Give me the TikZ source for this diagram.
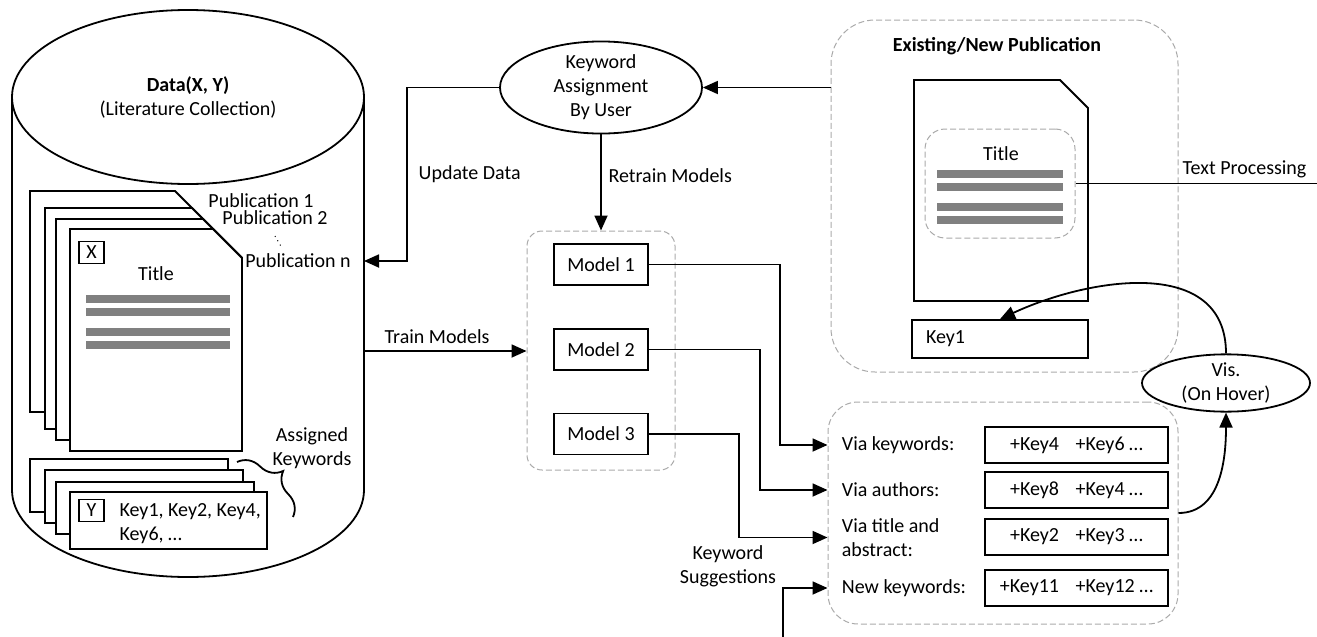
\documentclass[tikz,border=0pt]{standalone}
\usepackage{fontspec}
\setmainfont{Carlito}
\usepackage{xcolor}
\definecolor{grpgray}{RGB}{170,170,170}
\definecolor{bargray}{RGB}{128,128,128}
\usepackage{tikz}
\usetikzlibrary{shapes.geometric}
\usetikzlibrary{arrows.meta}
\usetikzlibrary{decorations.pathreplacing}

\begin{document}
\begin{tikzpicture}[x=0.5pt,y=-0.5pt,line width=0.9pt,
  arr/.style={-{Triangle[length=7.5pt,width=6.5pt]}},
  grp/.style={draw=grpgray,line width=0.5pt,dash pattern=on 3pt off 1.5pt,rounded corners=#1},
  grp/.default=8pt,
  page/.style={draw,fill=white},
  bar/.style={draw=bargray,line width=4pt},
  modelbox/.style={draw,minimum width=47pt,minimum height=20.5pt,inner sep=0pt},
  keybox/.style={draw,minimum width=91.5pt,minimum height=18pt,inner sep=0pt},
  tagbox/.style={draw,minimum width=12.5pt,minimum height=11pt,inner sep=0pt},
  oval/.style={draw,shape=ellipse,inner sep=0pt,align=center},
  via/.style={anchor=west,align=left,inner sep=0pt}]
\useasboundingbox (0,0) rectangle (1317,637);

% literature collection
\draw[fill=white] (12,97) -- (12,490) arc[start angle=180,end angle=0,x radius=176,y radius=87] -- (364,97);
\draw[fill=white] (188,97) ellipse[x radius=176,y radius=87];
\node (dataxy) [align=center] at (188,97) {\textbf{Data(X, Y)}\\(Literature Collection)};
\coordinate (cylupd) at (364,261);
\coordinate (cyltrain) at (364,351);

% publications
\draw[page] (30,412) -- (30,191) -- (175,191) -- (242,258) -- (242,412) -- cycle;
\draw[page] (45,429) -- (45,208) -- (192,208) -- (242,258) -- (242,429) -- cycle;
\draw[page] (56,440) -- (56,219) -- (203,219) -- (242,258) -- (242,440) -- cycle;
\draw[page] (70,451) -- (70,229) -- (213,229) -- (242,258) -- (242,451) -- cycle;
\node (xtag) [tagbox] at (91.5,252.5) {X};
\node (pubtitle) at (156,274) {Title};
\draw[bar] (86,299) -- (230,299);
\draw[bar] (86,312) -- (230,312);
\draw[bar] (86,332) -- (230,332);
\draw[bar] (86,345) -- (230,345);
\node (pub1) at (261,201) {Publication 1};
\node (pub2) at (275,218) {Publication 2};
\node (pubn) at (298,261) {Publication n};
\draw[dotted,line width=0.5pt] (275,236) -- (282,248);

% assigned keywords
\draw[page] (30,459) rectangle (228,512);
\draw[page] (45,470) rectangle (243,523);
\draw[page] (56,482) rectangle (254,534);
\draw[page] (70,492) rectangle (267,549);
\node (ytag) [tagbox] at (91.5,510.5) {Y};
\node (keylist) [anchor=west,align=left] at (112,524) {Key1, Key2, Key4,\\Key6, …};
\draw[decorate,decoration={brace,amplitude=13pt}] (237,462) -- (293,517);
\node (assigned) [align=center] at (312,448) {Assigned\\Keywords};

% user assignment and models
\node (kwuser) [oval,minimum width=101pt,minimum height=42.5pt] at (601,87.5) {Keyword\\Assignment\\By User};
\node (models) [grp=7.5pt,minimum width=74pt,minimum height=119.5pt] at (601,350.5) {};
\node (m1) [modelbox] at (601,264.5) {Model 1};
\node (m2) [modelbox] at (601,349.5) {Model 2};
\node (m3) [modelbox] at (601,434) {Model 3};
\draw[arr] (kwuser.west) -- ++(-92,0) |- (cylupd) node[pos=0.25,right=2pt]{Update Data};
\draw[arr] (kwuser.south) -- (models.north) node[pos=0.43,right=0pt]{Retrain Models};
\draw[arr] (cyltrain) -- (cyltrain -| models.west) node[pos=0.45,above=0pt]{Train Models};

% existing/new publication
\node (pubgrp) [grp=22pt,minimum width=173.5pt,minimum height=176pt] at (1004.5,196) {};
\node (pubhead) at (997,46) {\textbf{Existing/New Publication}};
\draw[page] (914,301) -- (914,80) -- (1060,80) -- (1088,108) -- (1088,301) -- cycle;
\node (txtbox) [grp=10pt,minimum width=75pt,minimum height=54.5pt] at (1000,183.5) {};
\node (newtitle) at (1001,154) {Title};
\draw[bar] (937,174) -- (1063,174);
\draw[bar] (937,187) -- (1063,187);
\draw[bar] (937,207) -- (1063,207);
\draw[bar] (937,220) -- (1063,220);
\node (key1) [draw,minimum height=19pt,text width=74pt,inner xsep=7pt,inner ysep=0pt,align=left] at (1000,339) {Key1};
\draw[arr] (kwuser.east -| pubgrp.west) -- (kwuser.east);
\coordinate (tpend) at (1317,183.5);
\draw (txtbox.east) -- (tpend) node[pos=0.7,above=-1pt]{Text Processing};

% keyword suggestions
\node (sugg) [grp=15pt,minimum width=175pt,minimum height=111pt] at (1003,513) {};
\node (via1) [via] at (841,445) {Via keywords:};
\node (via2) [via] at (841,490) {Via authors:};
\node (via3) [via] at (841,537.5) {Via title and\\abstract:};
\node (via4) [via] at (841,588) {New keywords:};
\node (sg1) [keybox] at (1076.5,445) {+Key4\hspace{6pt} +Key6 …};
\node (sg2) [keybox] at (1076.5,490) {+Key8\hspace{6pt} +Key4 …};
\node (sg3) [keybox] at (1076.5,537) {+Key2\hspace{6pt} +Key3 …};
\node (sg4) [keybox] at (1076.5,588) {+Key11\hspace{6pt} +Key12 …};
\draw[arr] (m1.east) -- ++(131,0) |- (via1 -| sugg.west);
\draw[arr] (m2.east) -- ++(111,0) |- (via2 -| sugg.west);
\draw[arr] (m3.east) -- ++(90,0) |- (via3 -| sugg.west);
\coordinate (kwin) at (783,637);
\draw[arr] (kwin) |- (via4 -| sugg.west);
\node (kwsugg) [align=center] at (728,566) {Keyword\\Suggestions};

% visualisation
\node (vis) [oval,minimum width=84pt,minimum height=27pt] at (1226,383) {Vis.\\(On Hover)};
\draw[arr] (sugg.east) to[out=0,in=-90] (vis.south);
\draw[arr] (vis.north) to[out=90,in=25,looseness=1.1] (key1.north);
\end{tikzpicture}
\end{document}
